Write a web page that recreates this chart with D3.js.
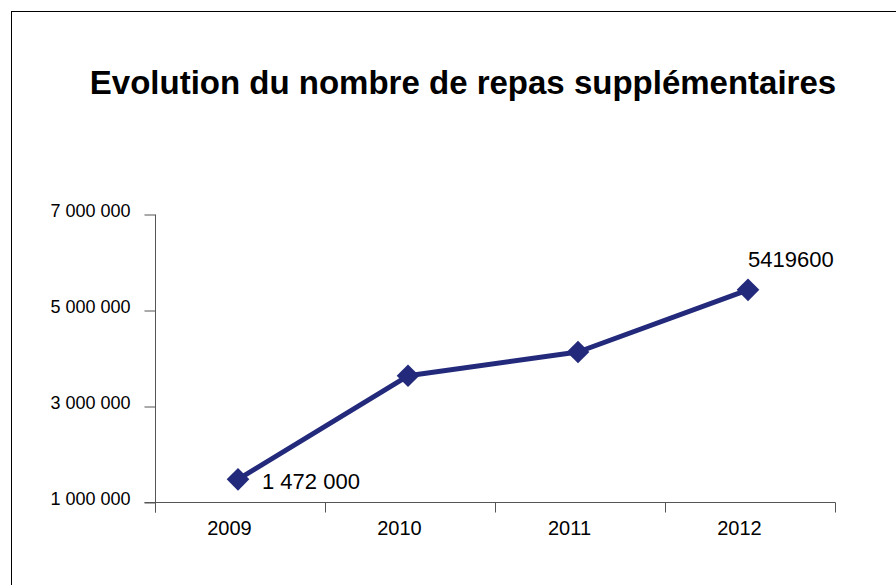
<!DOCTYPE html>
<html>
<head>
<meta charset="utf-8">
<script src="https://cdn.jsdelivr.net/npm/d3@7"></script>
<style>
  body { margin: 0; background: #fff; }
  svg { display: block; font-family: "Liberation Sans", Arial, sans-serif; }
</style>
</head>
<body>
<svg id="chart" width="896" height="585"></svg>
<script>
// Data
const years = ["2009", "2010", "2011", "2012"];
const repas = [1472000, 3630000, 4125000, 5419600];
const yTicks = [1000000, 3000000, 5000000, 7000000];
const pointLabels = ["1 472 000", "", "", "5419600"];

const svg = d3.select("#chart");

// outer frame
svg.append("rect")
  .attr("x", 11.5).attr("y", 11.5)
  .attr("width", 900).attr("height", 600)
  .attr("fill", "none")
  .attr("stroke", "#000")
  .attr("stroke-width", 1);

svg.append("text")
  .attr("x", 463).attr("y", 94)
  .attr("text-anchor", "middle")
  .attr("font-size", 33)
  .attr("font-weight", "bold")
  .text("Evolution du nombre de repas supplémentaires");

const x = d3.scaleBand().domain(years).range([155, 835]);
const y = d3.scaleLinear().domain([1000000, 7000000]).range([502, 214]);

const fmt = v => d3.format(",")(v).replace(/,/g, " ");

// y axis
const yAxis = svg.append("g")
  .attr("transform", "translate(155.5,0.5)")
  .call(d3.axisLeft(y).tickValues(yTicks).tickSize(11).tickPadding(14).tickFormat(fmt));
yAxis.select(".domain").attr("d", "M0,214V512").attr("stroke", "#555");
yAxis.selectAll(".tick line").attr("stroke", "#555");
yAxis.selectAll(".tick text").attr("font-size", 18).attr("fill", "#000")
  .attr("dy", "0.1em")
  .attr("font-family", "Liberation Sans, Arial, sans-serif");

// x axis
const xAxis = svg.append("g")
  .attr("transform", "translate(0.5,502.5)")
  .call(d3.axisBottom(x).tickSize(0).tickPadding(18));
xAxis.select(".domain").attr("d", "M144,0H835").attr("stroke", "#555");
xAxis.selectAll(".tick text").attr("font-size", 20).attr("fill", "#000")
  .attr("dx", -11)
  .attr("font-family", "Liberation Sans, Arial, sans-serif");
// category separator ticks
xAxis.selectAll(".sep")
  .data(years.map(d => x(d)).concat([x.range()[1]]))
  .join("line")
  .attr("class", "sep")
  .attr("x1", d => d).attr("x2", d => d)
  .attr("y1", 0).attr("y2", 10)
  .attr("stroke", "#555");

const cx = d => x(d) + x.bandwidth() / 2 - 2;
const pts = years.map((d, i) => ({ year: d, value: repas[i], label: pointLabels[i] }));

svg.append("path")
  .datum(pts)
  .attr("fill", "none")
  .attr("stroke", "#232a7b")
  .attr("stroke-width", 5)
  .attr("stroke-linejoin", "round")
  .attr("d", d3.line().x(d => cx(d.year)).y(d => y(d.value)));

svg.selectAll(".pt")
  .data(pts)
  .join("path")
  .attr("class", "pt")
  .attr("transform", d => `translate(${cx(d.year)},${y(d.value)}) rotate(45)`)
  .attr("d", "M-8,-8H8V8H-8Z")
  .attr("fill", "#232a7b");

// data labels
svg.append("text")
  .attr("x", cx(years[0]) + 24).attr("y", y(repas[0]) + 10)
  .attr("font-size", 22)
  .text(pointLabels[0]);
svg.append("text")
  .attr("x", cx(years[3])).attr("y", y(repas[3]) - 23)
  .attr("font-size", 22)
  .text(pointLabels[3]);
</script>
</body>
</html>
